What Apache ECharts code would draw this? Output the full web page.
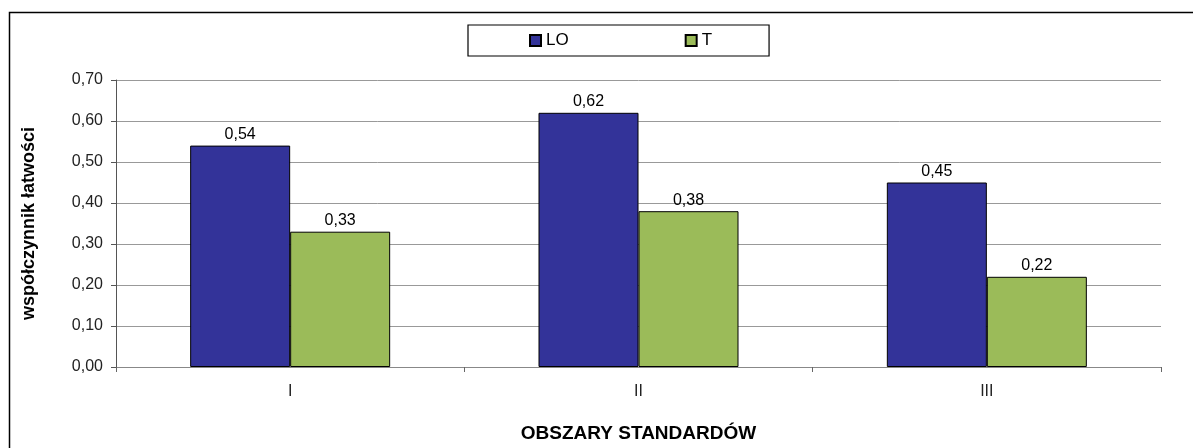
<!DOCTYPE html>
<html><head><meta charset="utf-8">
<script src="https://cdn.jsdelivr.net/npm/echarts@6/dist/echarts.min.js"></script>
<style>html,body{margin:0;padding:0;background:#fff;overflow:hidden}#c{width:1193px;height:448px}</style>
</head><body><div id="c"></div>
<script>
const categories = ['I', 'II', 'III'];
const seriesNames = ['LO', 'T'];
const valuesLO = [0.54, 0.62, 0.45];
const valuesT = [0.33, 0.38, 0.22];
const yTicks = { min: 0, max: 0.7, interval: 0.1 };

const fmt = v => v.toFixed(2).replace('.', ',');
const chart = echarts.init(document.getElementById('c'), null, { renderer: 'canvas', width: 1193, height: 448 });
const font = '"Liberation Sans", Arial, sans-serif';
chart.setOption({
  animation: false,
  backgroundColor: '#fff',
  textStyle: { fontFamily: font },
  graphic: [{ type: 'rect', shape: { x: 9.5, y: 12.5, width: 1200, height: 460 }, style: { fill: 'none', stroke: '#000', lineWidth: 1.5 }, silent: true, z: -10 }],
  legend: {
    left: 468, top: 25,
    padding: [7, 57, 7, 61],
    borderColor: '#000', borderWidth: 1.2,
    itemWidth: 11, itemHeight: 11, itemGap: 116,
    icon: 'rect',
    textStyle: { fontSize: 17, color: '#000', fontFamily: font },
    data: seriesNames
  },
  grid: { left: 116, width: 1045, top: 80, height: 288 },
  xAxis: {
    type: 'category', data: categories,
    axisLine: { lineStyle: { color: '#888', width: 1 } },
    axisTick: { show: true, length: 5, lineStyle: { color: '#666' } },
    axisLabel: { fontSize: 16, color: '#222', margin: 17, fontFamily: font },
    name: 'OBSZARY STANDARDÓW', nameLocation: 'middle', nameGap: 57,
    nameTextStyle: { fontSize: 19, fontWeight: 'bold', color: '#000', fontFamily: font }
  },
  yAxis: {
    type: 'value', min: yTicks.min, max: yTicks.max, interval: yTicks.interval,
    axisLine: { show: true, lineStyle: { color: '#555', width: 1 } },
    axisTick: { show: true, length: 5, lineStyle: { color: '#555' } },
    axisLabel: { fontSize: 16, color: '#222', margin: 13, formatter: fmt, fontFamily: font },
    splitLine: { lineStyle: { color: '#999', width: 1 } },
    name: 'współczynnik łatwości', nameLocation: 'middle', nameGap: 78, nameRotate: 90,
    nameTextStyle: { fontSize: 18, fontWeight: 'bold', color: '#000', fontFamily: font }
  },
  series: [
    { name: seriesNames[0], type: 'bar', data: valuesLO, barWidth: 100, barGap: '0%',
      itemStyle: { color: '#333399', borderColor: '#000', borderWidth: 1 },
      label: { show: true, position: 'top', distance: 3, fontSize: 16, color: '#000', formatter: p => fmt(p.value), fontFamily: font } },
    { name: seriesNames[1], type: 'bar', data: valuesT, barWidth: 100, barGap: '0%',
      itemStyle: { color: '#9BBB59', borderColor: '#000', borderWidth: 1 },
      label: { show: true, position: 'top', distance: 3, fontSize: 16, color: '#000', formatter: p => fmt(p.value), fontFamily: font } }
  ]
});
</script></body></html>
